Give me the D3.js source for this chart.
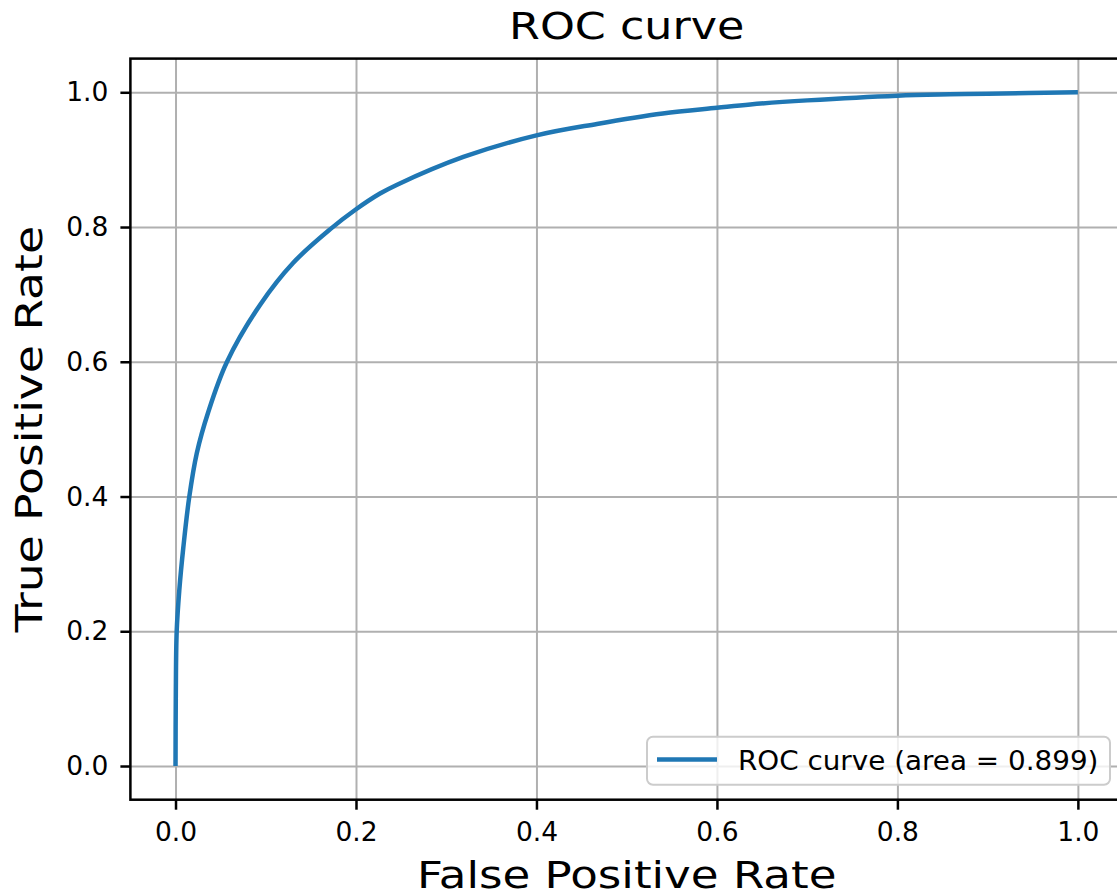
<!DOCTYPE html>
<html>
<head>
<meta charset="utf-8">
<script src="https://cdn.jsdelivr.net/npm/d3@7"></script>
<style>
  body { margin: 0; background: #fff; }
  svg { display: block; font-family: "DejaVu Sans", sans-serif; }
</style>
</head>
<body>
<svg id="chart" width="1117" height="894"></svg>
<script>
// ROC points
const fpr = [0, 0.0003, 0.0013, 0.0042, 0.0087, 0.0153, 0.0235, 0.0363, 0.0567, 0.0942, 0.1305, 0.1712, 0.1997, 0.2266, 0.245, 0.319, 0.4, 0.467, 0.54, 0.6, 0.637, 0.7, 0.8, 0.858, 0.9, 1.0]
const tpr = [0, 0.1, 0.2, 0.261, 0.325, 0.4, 0.464, 0.5255, 0.599, 0.6855, 0.747, 0.7965, 0.826, 0.8497, 0.8625, 0.904, 0.936, 0.953, 0.9685, 0.977, 0.982, 0.988, 0.995, 0.997, 0.998, 1.0]
const tickVals = [0, 0.2, 0.4, 0.6, 0.8, 1.0]
const legendLabel = 'ROC curve (area = 0.899)'

const data = fpr.map((d, i) => ({ x: d, y: tpr[i] }))

//chart globals
const margin = { left: 130.4, top: 58.6 }
const width = 992.6
const height = 741.1
const canvas = d3.select('#chart')

const g = canvas.append('g')
    .attr('transform', `translate(${margin.left}, ${margin.top})`)

//scales
const x = d3.scaleLinear().domain([-0.05, 1.05]).range([0, width])
const y = d3.scaleLinear().domain([-0.05, 1.05]).range([height, 0])

//grid
g.append('g')
    .attr('class', 'x-grid')
    .attr('transform', `translate(0, ${height})`)
    .call(d3.axisBottom(x).tickValues(tickVals).tickSize(-height).tickFormat(''))
    .call(s => s.select('.domain').remove())
    .selectAll('line')
    .attr('stroke', '#b0b0b0')
    .attr('stroke-width', 2)

g.append('g')
    .attr('class', 'y-grid')
    .call(d3.axisLeft(y).tickValues(tickVals).tickSize(-width).tickFormat(''))
    .call(s => s.select('.domain').remove())
    .selectAll('line')
    .attr('stroke', '#b0b0b0')
    .attr('stroke-width', 2)

//roc line
const line = d3.line()
    .x(d => x(d.x))
    .y(d => y(d.y))
    .curve(d3.curveCatmullRom.alpha(0.5))

g.append('path')
    .datum(data)
    .attr('fill', 'none')
    .attr('stroke', '#1f77b4')
    .attr('stroke-width', 4.5)
    .attr('stroke-linejoin', 'round')
    .attr('d', line)

//axes
const xAxisGroup = g.append('g')
    .attr('class', 'x-axis')
    .attr('transform', `translate(0, ${height})`)
    .call(d3.axisBottom(x).tickValues(tickVals).tickFormat(d3.format('.1f')).tickSizeOuter(0).tickSize(10).tickPadding(12))
xAxisGroup.select('.domain').remove()
xAxisGroup.selectAll('line').attr('stroke', '#000').attr('stroke-width', 2.5)
xAxisGroup.selectAll('text').attr('font-size', '26.5px').attr('fill', '#000')
    .attr('font-family', '"DejaVu Sans", sans-serif')

const yAxisGroup = g.append('g')
    .attr('class', 'y-axis')
    .call(d3.axisLeft(y).tickValues(tickVals).tickFormat(d3.format('.1f')).tickSizeOuter(0).tickSize(10).tickPadding(12))
yAxisGroup.select('.domain').remove()
yAxisGroup.selectAll('line').attr('stroke', '#000').attr('stroke-width', 2.5)
yAxisGroup.selectAll('text').attr('font-size', '26.5px').attr('fill', '#000')
    .attr('font-family', '"DejaVu Sans", sans-serif')

//frame
g.append('rect')
    .attr('x', 0)
    .attr('y', 0)
    .attr('width', width)
    .attr('height', height)
    .attr('fill', 'none')
    .attr('stroke', '#000')
    .attr('stroke-width', 2.5)

//legend
const legend = g.append('g')
    .attr('transform', `translate(${width - 476}, ${height - 63})`)

legend.append('rect')
    .attr('width', 463)
    .attr('height', 48)
    .attr('rx', 6)
    .attr('fill', '#fff')
    .attr('fill-opacity', 0.8)
    .attr('stroke', '#cccccc')
    .attr('stroke-width', 2)

legend.append('line')
    .attr('x1', 10).attr('x2', 70)
    .attr('y1', 22.7).attr('y2', 22.7)
    .attr('stroke', '#1f77b4')
    .attr('stroke-width', 4.5)

legend.append('text')
    .attr('transform', 'translate(91, 33.5) scale(1.07, 1)')
    .attr('font-size', '26px')
    .text(legendLabel)

//labels - glyphs in the original are wider than plain DejaVu, so stretch horizontally
g.append('text')
    .attr('transform', `translate(${width / 2}, -20) scale(1.2, 1)`)
    .attr('font-size', '37px')
    .attr('text-anchor', 'middle')
    .text('ROC curve')

g.append('text')
    .attr('transform', `translate(${width / 2}, ${height + 88}) scale(1.22, 1)`)
    .attr('font-size', '37px')
    .attr('text-anchor', 'middle')
    .text('False Positive Rate')

g.append('text')
    .attr('transform', `translate(-88.5, ${height / 2}) rotate(-90) scale(1.2, 1)`)
    .attr('font-size', '38px')
    .attr('text-anchor', 'middle')
    .text('True Positive Rate')
</script>
</body>
</html>
